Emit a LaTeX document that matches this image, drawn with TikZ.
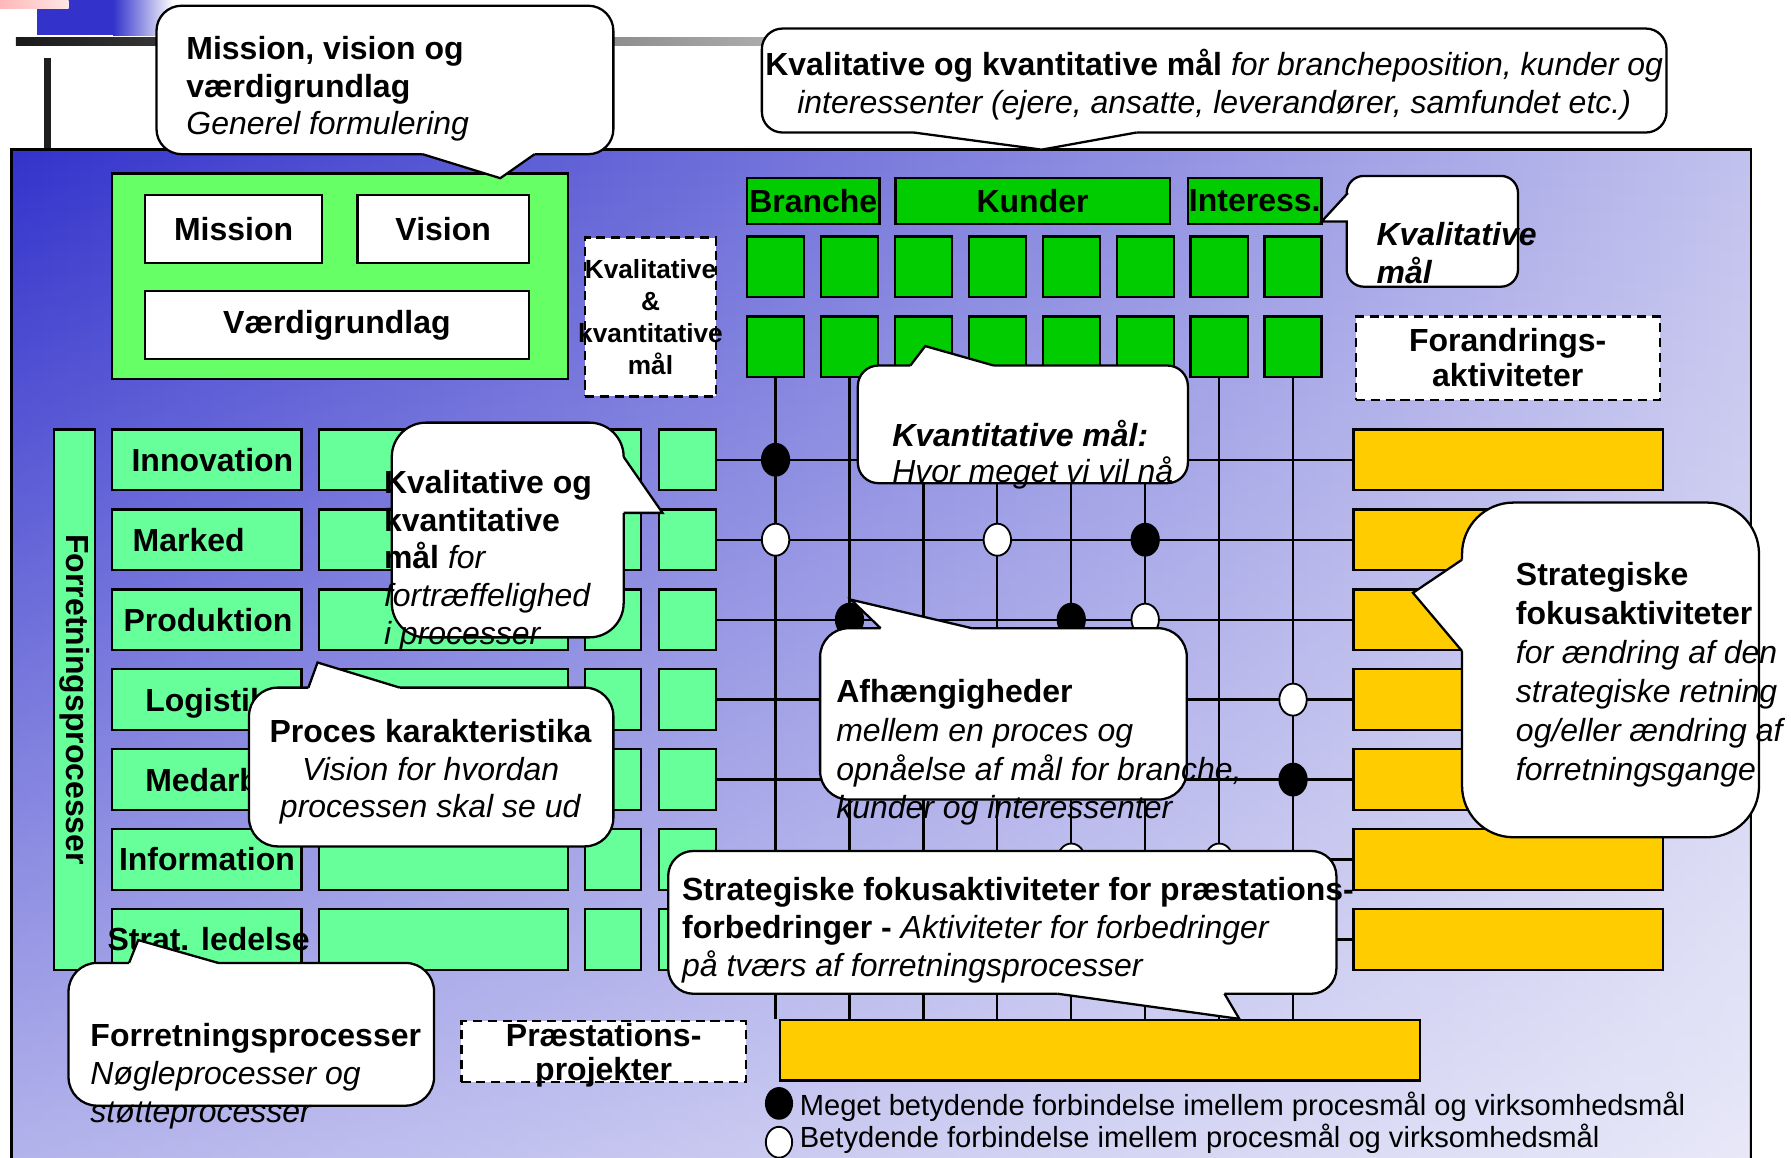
\documentclass[tikz,border=0pt]{standalone}
\usepackage{fontspec}
\setmainfont{Liberation Sans}
\usetikzlibrary{calc,shapes.geometric,fadings}
\definecolor{panelblue}{HTML}{3333CC}
\definecolor{panelpale}{HTML}{C2C2EE}
\definecolor{mintgreen}{HTML}{66FF99}
\definecolor{litegreen}{HTML}{66FF66}
\definecolor{darkgreen}{HTML}{00CC00}
\definecolor{gold}{HTML}{FFCC00}
\tikzfading[name=panelfade, top color=transparent!100, bottom color=transparent!35]
\newcommand{\mainsize}{\fontsize{28}{33}\selectfont}
% callout tail: base a, tip, base b, shift into the box
\newcommand{\calltail}[4]{%
  \fill[white] ($#1+#4$) -- #1 -- #2 -- #3 -- ($#3+#4$) -- cycle;
  \draw[line width=2pt] #1 -- #2 -- #3;}
\tikzset{
  cell/.style={draw, line width=2pt, inner sep=0pt},
  mintbox/.style={cell, fill=mintgreen, minimum width=#1, minimum height=53pt},
  goldbox/.style={cell, fill=gold, minimum width=271pt, minimum height=53pt},
  sqbox/.style={cell, fill=darkgreen, minimum width=50pt, minimum height=53pt},
  headbox/.style={cell, fill=darkgreen, minimum width=#1, minimum height=40pt, lbl},
  dashbox/.style={cell, fill=white, dash pattern=on 8pt off 5pt},
  callbox/.style={cell, fill=white, rounded corners=#1},
  lbl/.style={font=\mainsize\bfseries},
  gridline/.style={line width=2pt},
  linkdot/.style={draw, ellipse, line width=1.6pt, minimum width=24pt, minimum height=28pt, inner sep=0pt},
}
\begin{document}
\begin{tikzpicture}[x=1pt,y=-1pt,every node/.style={font=\mainsize, inner sep=0pt}]
\useasboundingbox (0,0) rectangle (1568,1013);
% slide decoration
\fill[panelblue] (32,0) rectangle (99,31);
\shade[left color=panelblue, right color=white] (99,0) rectangle (152,31);
\shade[left color=red!28, right color=red!10] (0,0) rectangle (60,7);
\shade[left color=black!90, right color=black!30] (14,33) rectangle (700,40);
\fill[black!88] (38.5,51) rectangle (44.5,131);
% background panel
\shade[left color=panelblue, right color=panelpale] (10,131) rectangle (1533,1040);
\fill[white, path fading=panelfade] (10,131) rectangle (1533,1040);
\draw[line width=2pt] (10,131) rectangle (1533,1040);

% mission, vision, values
\node[cell, fill=litegreen, minimum width=399pt, minimum height=180pt] (mvv) at (297.5,242) {};
\node[cell, fill=white, minimum width=155pt, minimum height=59pt, lbl] (mis) at (204.5,200.5) {Mission};
\node[cell, fill=white, minimum width=150pt, minimum height=59pt, lbl] (vis) at (388,200.5) {Vision};
\node[cell, fill=white, minimum width=336pt, minimum height=59pt, lbl] (vgr) at (295,284.5) {Værdigrundlag};
\node[dashbox, minimum width=115pt, minimum height=139pt] (kkm) at (569.5,277.5) {};
\node[anchor=base, align=center, font=\fontsize{23}{28}\selectfont\bfseries] (tkkm) at (569.5,328) {Kvalitative\\\&\\kvantitative\\mål};

% goal columns
\node[headbox=116pt] (hbr) at (712,176) {Branche};
\node[headbox=240pt] (hku) at (904,176) {Kunder};
\node[headbox=117pt] (hin) at (1098.5,176) {Interess.};
\foreach \c in {1,...,8} {
  \pgfmathsetmacro\cx{679+64.72*(\c-1)}
  \node[sqbox] (q1-\c) at (\cx,233.5) {};
  \node[sqbox] (q2-\c) at (\cx,303.5) {};
}
\node[cell, fill=gold, minimum width=560pt, minimum height=53pt] (prj) at (963,919.5) {};

% process rows
\node[cell, fill=mintgreen, minimum width=36pt, minimum height=473pt] (fp) at (65,612.5) {};
\node[lbl, rotate=-90] (tfp) at (65,612.5) {Forretningsprocesser};
\foreach \r/\lab/\lx in {1/Innovation/115,2/Marked/116,3/Produktion/108,4/Logistik/127,5/Medarbejdere/127,6/Information/104,7/Strat. ledelse/94} {
  \pgfmathsetmacro\ry{402.5+70*(\r-1)}
  \node[mintbox=166pt] (m1-\r) at (181,\ry) {};
  \node[mintbox=218pt] (m2-\r) at (388,\ry) {};
  \node[mintbox=49pt] (m3-\r) at (536.5,\ry) {};
  \node[mintbox=50pt] (m4-\r) at (602,\ry) {};
  \node[goldbox] (gb\r) at (1320.5,\ry) {};
  \node[lbl, anchor=base west] (lb\r) at (\lx,\ry+10) {\lab};
}

% grid of links
\foreach \c in {1,...,8} \draw[gridline] (q2-\c.south) -- (q2-\c.south |- prj.north);
\foreach \r in {1,...,7} \draw[gridline] (m4-\r.east) -- (gb\r.west);
\foreach \c/\r in {1/1,6/2,2/3,5/3,8/5} \node[linkdot, fill=black] (b\c-\r) at (q2-\c |- m4-\r) {};
\foreach \c/\r in {1/2,4/2,6/3,8/4,5/6,7/6} \node[linkdot, fill=white] (w\c-\r) at (q2-\c |- m4-\r) {};

\node[dashbox, minimum width=266pt, minimum height=73pt] (fa) at (1320,313.5) {};
\node[lbl, anchor=base, align=center, font=\fontsize{28}{30}\selectfont\bfseries] (tfa) at (1320,338) {Forandrings-\\aktiviteter};
\node[dashbox, minimum width=249pt, minimum height=53pt] (pp) at (528.5,920.5) {};
\node[lbl, anchor=base, align=center, font=\fontsize{28}{30}\selectfont\bfseries] (tpp) at (528.5,946) {Præstations-\\projekter};

% legend
\node[linkdot, fill=black, minimum width=23pt, minimum height=27pt] (lgb) at (682,966) {};
\node[linkdot, fill=white, minimum width=23pt, minimum height=27pt] (lgw) at (682,1000) {};
\node[anchor=base west, align=left, font=\fontsize{25.5}{28}\selectfont] (tlg) at (700,1005) {Meget betydende forbindelse imellem procesmål og virksomhedsmål\\Betydende forbindelse imellem procesmål og virksomhedsmål};

% callouts
\node[callbox=22pt, minimum width=400pt, minimum height=130pt] (cmis) at (337,70) {};
\calltail{(370,135)}{(438,156)}{(468,135)}{(0,-3)}
\node[anchor=base west, align=left] (tmis) at (163,118) {\textbf{Mission, vision og}\\\textbf{værdigrundlag}\\\textit{Generel formulering}};

\node[callbox=18pt, minimum width=792pt, minimum height=91pt] (ctop) at (1063,70.5) {};
\calltail{(800,116)}{(912,131)}{(995,116)}{(0,-3)}
\node[anchor=base, align=center] (ttop) at (1063,99) {\textbf{Kvalitative og kvantitative mål} \textit{for brancheposition, kunder og}\\\textit{interessenter (ejere, ansatte, leverandører, samfundet etc.)}};

\node[callbox=15pt, minimum width=150pt, minimum height=97pt] (ckm) at (1254,202.5) {};
\calltail{(1180,169)}{(1157,194)}{(1180,194)}{(3,0)}
\node[anchor=base west, align=left, font=\mainsize\bfseries\itshape] (tkm) at (1205,248) {Kvalitative\\mål};

\node[callbox=18pt, minimum width=289pt, minimum height=103pt] (ckv) at (895.5,371.5) {};
\calltail{(797,320)}{(810,303)}{(870,320)}{(0,3)}
\node[anchor=base west, align=left, font=\fontsize{28}{31}\selectfont] (tkv) at (781,422) {\textbf{\textit{Kvantitative mål:}}\\\textit{Hvor meget vi vil nå}};

\node[callbox=30pt, minimum width=203pt, minimum height=188pt] (cpr) at (444.5,464) {};
\calltail{(546,400)}{(580,449)}{(546,449)}{(-3,0)}
\node[anchor=base west, align=left] (tpr) at (336,564) {\textbf{Kvalitative og}\\\textbf{kvantitative}\\\textbf{mål} \textit{for}\\\textit{fortræffelighed}\\\textit{i processer}};

\node[callbox=25pt, minimum width=319pt, minimum height=139pt] (cka) at (377.5,671.5) {};
\calltail{(270,602)}{(278,580)}{(350,602)}{(0,3)}
\node[anchor=base, align=center] (tka) at (377,716) {\textbf{Proces karakteristika}\\\textit{Vision for hvordan}\\\textit{processen skal se ud}};

\node[callbox=25pt, minimum width=321pt, minimum height=150pt] (caf) at (878.5,625) {};
\calltail{(771,550)}{(745,525)}{(851,550)}{(0,3)}
\node[anchor=base west, align=left, font=\fontsize{28}{34}\selectfont] (taf) at (732,717) {\textbf{Afhængigheder}\\\textit{mellem en proces og}\\\textit{opnåelse af mål for branche,}\\\textit{kunder og interessenter}};

\node[callbox=45pt, minimum width=260pt, minimum height=293pt] (cst) at (1410,586.5) {};
\calltail{(1280,490)}{(1237,519)}{(1280,570)}{(3,0)}
\node[anchor=base west, align=left, font=\fontsize{28}{34}\selectfont] (tst) at (1327,683) {\textbf{Strategiske}\\\textbf{fokusaktiviteter}\\\textit{for ændring af den}\\\textit{strategiske retning}\\\textit{og/eller ændring af}\\\textit{forretningsgange}};

\node[callbox=22pt, minimum width=585pt, minimum height=125pt] (cpf) at (877.5,807.5) {};
\calltail{(926,870)}{(1085,892)}{(1072,870)}{(0,-3)}
\node[anchor=base west, align=left, font=\fontsize{28}{33.5}\selectfont] (tpf) at (597,855) {\textbf{Strategiske fokusaktiviteter for præstations-}\\\textbf{forbedringer -} \textit{Aktiviteter for forbedringer}\\\textit{på tværs af forretningsprocesser}};

\node[callbox=25pt, minimum width=320pt, minimum height=125pt] (cfo) at (220,905.5) {};
\calltail{(113,843)}{(121,823)}{(191,843)}{(0,3)}
\node[anchor=base west, align=left, font=\fontsize{28}{33.5}\selectfont] (tfo) at (79,983) {\textbf{Forretningsprocesser}\\\textit{Nøgleprocesser og}\\\textit{støtteprocesser}};
\end{tikzpicture}
\end{document}
